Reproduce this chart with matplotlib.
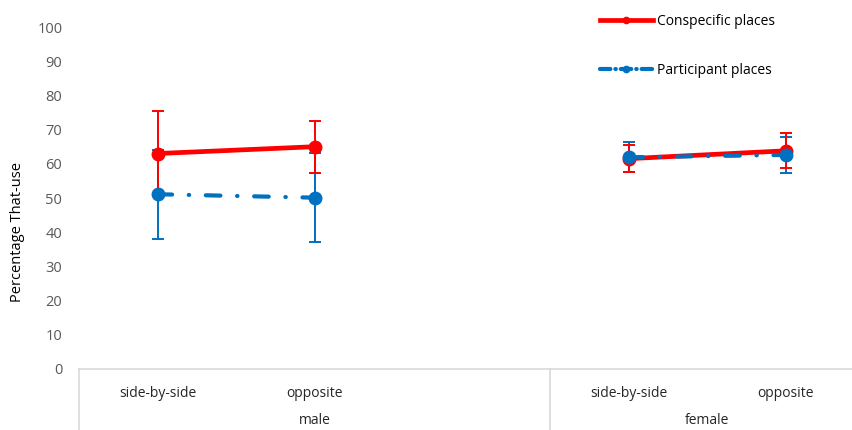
import matplotlib.pyplot as plt
import matplotlib.transforms as mtransforms
from matplotlib.lines import Line2D

plt.rcParams['font.family'] = ['Open Sans', 'DejaVu Sans']

# slot positions: male (0, 1, empty 2), female (3, 4)
positions = [[0, 1], [3, 4]]
groups = ['male', 'female']
conditions = ['side-by-side', 'opposite']

consp = [[63.0, 65.0], [61.5, 63.8]]
consp_err = [[12.4, 7.6], [4.0, 5.1]]
partic = [[51.1, 50.1], [61.9, 62.6]]
partic_err = [[13.0, 13.0], [4.4, 5.3]]

red = '#FF0000'
blue = '#0070C0'
grey = '#D9D9D9'
tick_col = '#595959'

fig = plt.figure(figsize=(8.52, 4.30), dpi=100)
ax = fig.add_axes([79 / 852, 61 / 430, 785 / 852, 342 / 430])

dash = (3.5, 4, 0.1, 4)
for i in range(2):
    x = positions[i]
    ax.errorbar(x, partic[i], yerr=partic_err[i], fmt='none', ecolor=blue,
                elinewidth=1.4, capsize=4, capthick=1.4, zorder=2)
    ax.errorbar(x, consp[i], yerr=consp_err[i], fmt='none', ecolor=red,
                elinewidth=1.4, capsize=4, capthick=1.4, zorder=3)
    ax.plot(x, consp[i], color=red, lw=3.4, solid_capstyle='round', zorder=3)
    ax.plot(x, partic[i], color=blue, lw=3.0, dashes=dash,
            dash_capstyle='round', zorder=4)
    ax.plot(x, consp[i], 'o', color=red, ms=9, zorder=5)
    ax.plot(x, partic[i], 'o', color=blue, ms=9, zorder=6)

ax.set_xlim(-0.5, 4.5)
ax.set_ylim(0, 100)
ax.set_yticks(range(0, 101, 10))
ax.tick_params(axis='y', length=0, pad=12, labelsize=10.5, labelcolor=tick_col)
for s in ['left', 'right', 'top']:
    ax.spines[s].set_visible(False)
ax.spines['bottom'].set_color(grey)
ax.spines['bottom'].set_linewidth(1.2)

ax.set_xticks([p for pair in positions for p in pair])
ax.set_xticklabels(conditions * 2)
ax.tick_params(axis='x', length=0, pad=12, labelsize=10, labelcolor='#262626')

# group labels and separators under the category axis
trans = mtransforms.blended_transform_factory(ax.transData, ax.transAxes)
for g, x in zip(groups, [1.0, 3.5]):
    ax.text(x, -0.152, g, transform=trans, ha='center', va='center',
            fontsize=10, color='#262626')
for xs in [-0.5, 2.5, 4.5]:
    ax.plot([xs, xs], [0, -0.2], transform=trans, color=grey, lw=1.2,
            clip_on=False)

fig.text(18 / 852, 198 / 430, 'Percentage That-use', rotation=90,
         ha='center', va='center', fontsize=10.5, color='black')

handles = [
    Line2D([], [], color=red, lw=3.4, marker='o', ms=4.5),
    Line2D([], [], color=blue, lw=3.0, dashes=(2.5, 1.2, 0.1, 1.2),
           dash_capstyle='round', marker='o', ms=4.5),
]
ax.legend(handles, ['Conspecific places', 'Participant places'],
          loc='upper left', bbox_to_anchor=(590 / 852, 1 - 4 / 430),
          bbox_transform=fig.transFigure, frameon=False, fontsize=10,
          handlelength=3.8, handletextpad=0.3, labelspacing=2.45,
          borderaxespad=0.3)

fig.savefig('out.png', dpi=100)
